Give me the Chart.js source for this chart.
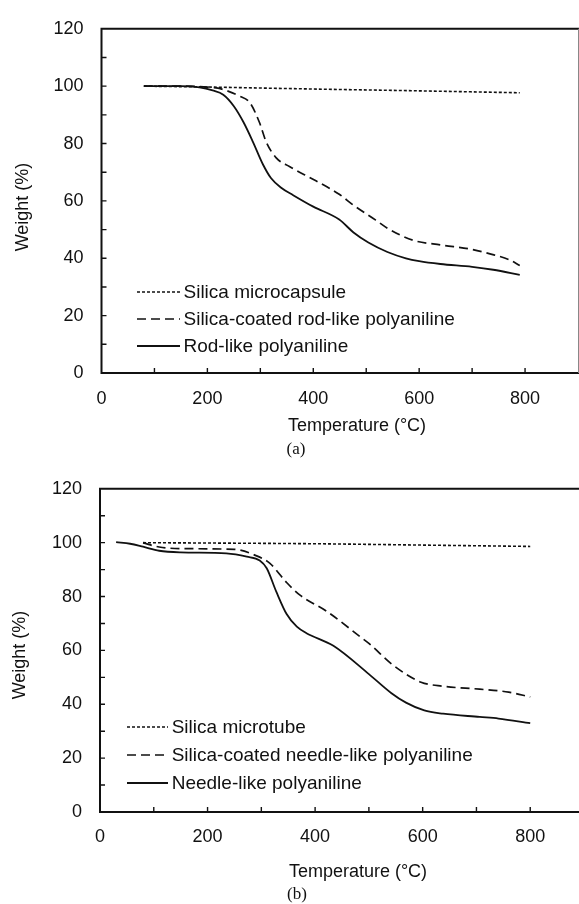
<!DOCTYPE html>
<html>
<head>
<meta charset="utf-8">
<script src="https://cdn.jsdelivr.net/npm/chart.js@4.4.1/dist/chart.umd.min.js"></script>
<style>
  html, body { margin: 0; padding: 0; background: #fff; overflow: hidden; }
  #wrap { position: relative; width: 579px; height: 904px; overflow: hidden; }
  canvas { position: absolute; left: 0; }
  #chartA { top: 0; }
  #chartB { top: 460px; }
</style>
</head>
<body>
<div id="wrap">
  <canvas id="chartA" width="579" height="460"></canvas>
  <canvas id="chartB" width="590" height="444"></canvas>
</div>
<script>
// ---- (a) rod-like polyaniline ----
const silicaA_T = [80, 200, 400, 560, 790];
const silicaA_W = [100, 99.7, 99.0, 98.5, 97.7];

const coatedA_T = [80, 150, 200, 220, 240, 260, 280, 298, 311, 330, 355, 405, 449, 476, 518, 540, 588, 643, 699, 741, 770, 790];
const coatedA_W = [100, 100, 99.7, 99.3, 98.2, 96.6, 94.3, 87.5, 80.6, 75, 72, 67, 62.3, 58.5, 53.3, 50.5, 46.3, 44.6, 43.1, 41.2, 39.5, 37.5];

const rodA_T = [80, 150, 185, 210, 230, 250, 268, 286, 305, 320, 340, 362, 400, 449, 476, 504, 540, 575, 600, 640, 700, 740, 790];
const rodA_W = [100, 100, 99.6, 98.5, 97, 93, 87.5, 80.6, 72.7, 68, 64.5, 62, 58, 53.5, 49, 45.5, 42.2, 40, 39, 38, 37, 36, 34.2];

// ---- (b) needle-like polyaniline ----
const silicaB_T = [80, 400, 600, 800];
const silicaB_W = [100, 99.6, 99.1, 98.6];

const coatedB_T = [80, 110, 150, 250, 290, 316, 347, 372, 421, 483, 500, 545, 597, 638, 706, 760, 800];
const coatedB_W = [99.9, 98.4, 97.8, 97.5, 95.2, 92.3, 85.2, 80.5, 74.6, 65.2, 62.6, 54.5, 48.2, 46.7, 45.6, 44.5, 42.7];

const needleB_T = [30, 56, 80, 110, 150, 235, 273, 297, 310, 328, 347, 366, 384, 434, 500, 542, 569, 603, 638, 706, 741, 800];
const needleB_W = [100.2, 99.6, 98.5, 97, 96.4, 96, 94.8, 93.4, 90.5, 81.7, 73.5, 68.8, 66.4, 61.7, 51.2, 44.1, 40.6, 37.7, 36.5, 35.3, 34.7, 33];

// axis ticks
const xTickLabels = [0, 200, 400, 600, 800];
const yTickLabels = [0, 20, 40, 60, 80, 100, 120];
const xMarks = [100, 200, 300, 400, 500, 600, 700, 800];
const yMarks = [10, 20, 30, 40, 50, 60, 70, 80, 90, 100, 110];

const INK = '#111';
const SANS = "'Liberation Sans', Arial, sans-serif";

function pts(t, w) {
  return t.map((v, i) => ({ x: v, y: w[i] }));
}

function line(label, t, w, dash, width) {
  return {
    label: label,
    data: pts(t, w),
    borderColor: INK,
    borderWidth: width,
    borderDash: dash,
    pointRadius: 0,
    fill: false,
    cubicInterpolationMode: 'monotone'
  };
}

// inward tick marks, frame and texts
const framePlugin = {
  id: 'frame',
  afterDraw(chart, args, o) {
    const { ctx, chartArea: a, scales: { x, y } } = chart;
    ctx.save();
    ctx.strokeStyle = INK;
    ctx.lineWidth = 1.4;
    ctx.beginPath();
    xMarks.forEach(v => {
      const px = x.getPixelForValue(v);
      ctx.moveTo(px, a.bottom);
      ctx.lineTo(px, a.bottom - 5);
    });
    yMarks.forEach(v => {
      const py = y.getPixelForValue(v);
      ctx.moveTo(a.left, py);
      ctx.lineTo(a.left + 5, py);
    });
    ctx.stroke();

    ctx.lineWidth = 2;
    ctx.beginPath();
    ctx.moveTo(a.right + 3, a.top);
    ctx.lineTo(a.left, a.top);
    ctx.lineTo(a.left, a.bottom);
    ctx.lineTo(a.right + 3, a.bottom);
    ctx.stroke();
    if (o.rightBorder) {
      ctx.strokeStyle = '#888';
      ctx.lineWidth = 1;
      ctx.beginPath();
      ctx.moveTo(a.right + 0.5, a.top);
      ctx.lineTo(a.right + 0.5, a.bottom);
      ctx.stroke();
    }

    ctx.strokeStyle = INK;
    ctx.fillStyle = INK;
    ctx.textAlign = 'center';
    ctx.textBaseline = 'middle';
    o.texts.forEach(t => {
      ctx.save();
      ctx.font = t.font;
      ctx.translate(t.x, t.y);
      if (t.rotate) ctx.rotate(-Math.PI / 2);
      ctx.fillText(t.text, 0, 0);
      ctx.restore();
    });

    // legend inside the plot
    const L = o.legend;
    ctx.font = '19px ' + SANS;
    ctx.textAlign = 'left';
    chart.data.datasets.forEach((ds, i) => {
      const yy = L.y + i * L.step;
      ctx.lineWidth = ds.borderWidth;
      ctx.setLineDash(ds.borderDash || []);
      ctx.beginPath();
      ctx.moveTo(L.x0, yy);
      ctx.lineTo(L.x1, yy);
      ctx.stroke();
      ctx.setLineDash([]);
      ctx.fillText(ds.label, L.tx, yy + 1);
    });
    ctx.restore();
  }
};

function makeChart(id, datasets, geo) {
  return new Chart(document.getElementById(id), {
    type: 'line',
    data: { datasets: datasets },
    plugins: [framePlugin],
    options: {
      responsive: false,
      animation: false,
      devicePixelRatio: 1,
      layout: { padding: { top: geo.top, right: geo.right, left: 0, bottom: 0 } },
      plugins: {
        legend: { display: false },
        tooltip: { enabled: false },
        frame: { rightBorder: geo.rightBorder, texts: geo.texts, legend: geo.legend }
      },
      scales: {
        x: {
          type: 'linear',
          min: 0,
          max: 900,
          grid: { display: false, drawTicks: false },
          border: { display: false },
          afterBuildTicks: s => { s.ticks = xTickLabels.map(v => ({ value: v })); },
          afterFit: s => { s.height = geo.xHeight; },
          ticks: { autoSkip: false, maxRotation: 0, padding: geo.xPad, color: INK, font: { family: SANS, size: 18 } }
        },
        y: {
          min: 0,
          max: 120,
          grid: { display: false, drawTicks: false },
          border: { display: false },
          afterBuildTicks: s => { s.ticks = yTickLabels.map(v => ({ value: v })); },
          afterFit: s => { s.width = geo.yWidth; },
          ticks: { padding: 18, color: INK, font: { family: SANS, size: 18 } }
        }
      }
    }
  });
}

makeChart('chartA', [
  line('Silica microcapsule', silicaA_T, silicaA_W, [3, 2], 1.6),
  line('Silica-coated rod-like polyaniline', coatedA_T, coatedA_W, [9, 5], 1.7),
  line('Rod-like polyaniline', rodA_T, rodA_W, [], 1.8)
], {
  top: 21, right: 1, xHeight: 87, yWidth: 101.5, xPad: 15, rightBorder: true,
  legend: { x0: 137, x1: 180, tx: 183.5, y: 292, step: 27 },
  texts: [
    { text: 'Weight (%)', x: 23, y: 207, rotate: true, font: '18px ' + SANS },
    { text: 'Temperature (°C)', x: 357, y: 426, font: '18px ' + SANS },
    { text: '(a)', x: 296, y: 450, font: '17px "Liberation Serif", "Times New Roman", serif' }
  ]
});

makeChart('chartB', [
  line('Silica microtube', silicaB_T, silicaB_W, [3, 2], 1.6),
  line('Silica-coated needle-like polyaniline', coatedB_T, coatedB_W, [9, 5], 1.7),
  line('Needle-like polyaniline', needleB_T, needleB_W, [], 1.8)
], {
  top: 11, right: 6, xHeight: 92, yWidth: 100, xPad: 14, rightBorder: false,
  legend: { x0: 127, x1: 168, tx: 171.7, y: 267, step: 28 },
  texts: [
    { text: 'Weight (%)', x: 20, y: 195, rotate: true, font: '18px ' + SANS },
    { text: 'Temperature (°C)', x: 358, y: 412, font: '18px ' + SANS },
    { text: '(b)', x: 297, y: 435, font: '17px "Liberation Serif", "Times New Roman", serif' }
  ]
});
</script>
</body>
</html>
